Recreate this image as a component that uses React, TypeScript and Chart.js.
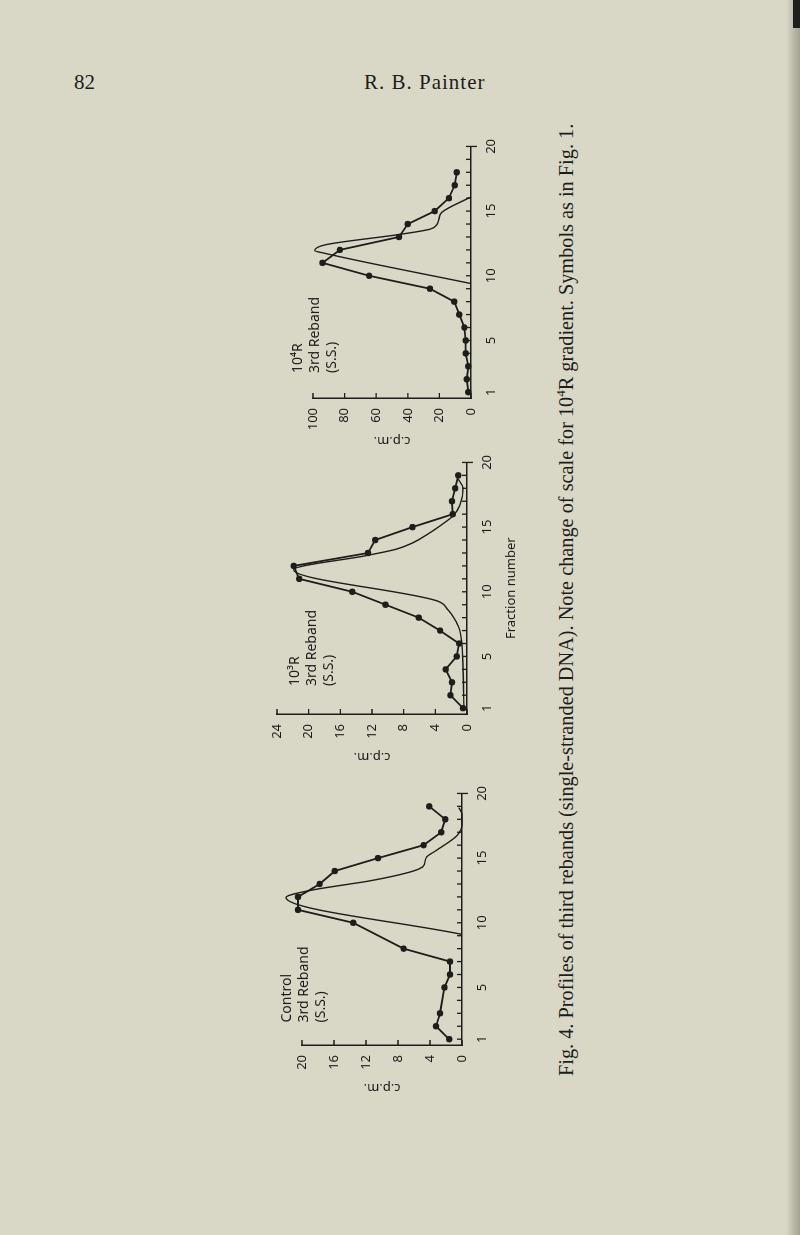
import React, { useEffect, useRef } from "react";
import { Chart, registerables } from "chart.js";

Chart.register(...registerables);

const INK = "#1d1d1b";
const PAPER = "#d9d8c6";

// Fraction axis (shared by the three panels)
const fractionLabels = [1, 5, 10, 15, 20];
const fractionMarks = [1, 2, 3, 4, 5, 6, 7, 8, 9, 10, 11, 12, 13, 14, 15, 16, 17, 18, 19, 20];

// Panel 1: 10^4 R, 3rd reband
const r4DotFractions = [1, 2, 3, 4, 5, 6, 7, 8, 9, 10, 11, 12, 13, 14, 15, 16, 17, 18];
const r4DotCpm = [1.7, 2.7, 1.7, 3.4, 3.4, 4.2, 7.4, 10.6, 26, 64.5, 94, 83, 45.6, 40, 23, 14, 10.3, 9];
const r4CurveFractions = [9.4, 11.75, 11.95, 12.4, 13.2, 13.6, 13.9, 14.3, 14.9, 16.1];
const r4CurveCpm = [0, 93, 99, 92, 45, 26, 22, 20.5, 18.5, 0];
const r4CpmTicks = [0, 20, 40, 60, 80, 100];

// Panel 2: 10^3 R, 3rd reband
const r3DotFractions = [1, 2, 3, 4, 5, 6, 7, 8, 9, 10, 11, 12, 13, 14, 15, 16, 17, 18, 19];
const r3DotCpm = [0.5, 2.1, 1.9, 2.7, 1.3, 1.0, 3.4, 6.1, 10.3, 14.5, 21.2, 21.9, 12.5, 11.6, 6.9, 1.8, 1.9, 1.5, 1.1];
const r3CurveFractions = [1, 4, 7, 7.6, 8.6, 9.3, 11.7, 12.8, 13.3, 13.8, 14.4, 15.1, 15.9, 16.7, 18.0, 18.7];
const r3CurveCpm = [0.4, 0.5, 0.9, 1.3, 2.4, 3.8, 21.9, 12.7, 8.9, 6.8, 5.1, 3.4, 1.7, 0.9, 0.5, 1.1];
const r3CpmTicks = [0, 4, 8, 12, 16, 20, 24];

// Panel 3: Control, 3rd reband
const ctlDotFractions = [1, 2, 3, 5, 6, 7, 8, 10, 11, 12, 13, 14, 15, 16, 17, 18, 19];
const ctlDotCpm = [1.6, 3.25, 2.75, 2.2, 1.5, 1.5, 7.3, 13.6, 20.5, 20.5, 17.8, 15.9, 10.5, 4.8, 2.6, 2.1, 4.1];
const ctlCurveFractions = [9.1, 11.95, 12.5, 13.0, 13.2, 14.0, 14.4, 14.8, 15.1, 15.6, 16.7, 17.6, 18.4, 18.9];
const ctlCurveCpm = [0, 22, 19, 14, 11.9, 6.1, 4.8, 4.6, 4.4, 3.2, 0.7, 0, 0, 0.4];
const ctlCpmTicks = [0, 4, 8, 12, 16, 20];

// geometry of each (unrotated) chart canvas
const Y_AXIS_W = 62;
const PLOT_W = 262.6;
const W = 333;
const RIGHT_PAD = W - Y_AXIS_W - PLOT_W;
const TOP_PAD = 30;
const X_AXIS_H = 52;

Chart.defaults.font.family = "'Noto Sans', sans-serif";
Chart.defaults.color = INK;

const tickMarks = {
  id: "innerTicks",
  afterDraw(chart: any, _args: any, opts: any) {
    const { ctx, chartArea, scales } = chart;
    const x = scales.x;
    const y = scales.y;
    ctx.save();
    ctx.strokeStyle = INK;
    ctx.lineWidth = 1.3;
    ctx.beginPath();
    for (const f of fractionMarks) {
      const px = x.getPixelForValue(f);
      ctx.moveTo(px, chartArea.bottom);
      ctx.lineTo(px, chartArea.bottom - 5);
    }
    const p20 = x.getPixelForValue(20);
    ctx.moveTo(p20, chartArea.bottom);
    ctx.lineTo(p20, chartArea.bottom + 6);
    for (const v of opts.yTicks as number[]) {
      const py = y.getPixelForValue(v);
      ctx.moveTo(chartArea.left, py);
      ctx.lineTo(chartArea.left + 5, py);
    }
    ctx.stroke();
    ctx.restore();
  },
};

type PanelProps = {
  dotF: number[];
  dotV: number[];
  curveF: number[];
  curveV: number[];
  ticks: number[];
  plotH: number;
  left: number;
  top: number;
  lines: string[];
  labelU: number;
  labelV: number;
  xTitle?: string;
};

function Panel(p: PanelProps) {
  const ref = useRef<HTMLCanvasElement>(null);
  const H = TOP_PAD + p.plotH + X_AXIS_H;
  const max = p.ticks[p.ticks.length - 1];
  useEffect(() => {
    const chart = new Chart(ref.current as HTMLCanvasElement, {
      type: "line",
      data: {
        datasets: [
          {
            data: p.dotF.map((f, i) => ({ x: f, y: p.dotV[i] })),
            borderColor: INK,
            borderWidth: 1.8,
            pointRadius: 3.2,
            pointBackgroundColor: INK,
            pointBorderWidth: 0,
            tension: 0,
            clip: false,
          } as any,
          {
            data: p.curveF.map((f, i) => ({ x: f, y: p.curveV[i] })),
            borderColor: INK,
            borderWidth: 1.4,
            pointRadius: 0,
            cubicInterpolationMode: "monotone",
            clip: false,
          } as any,
        ],
      },
      options: {
        animation: false,
        responsive: false,
        events: [],
        layout: { padding: { top: TOP_PAD, right: RIGHT_PAD, left: 0, bottom: 0 } },
        plugins: {
          legend: { display: false },
          tooltip: { enabled: false },
          innerTicks: { yTicks: p.ticks },
        } as any,
        scales: {
          x: {
            type: "linear",
            min: 0.55,
            max: 20,
            grid: { display: false, drawTicks: false },
            border: { display: true, color: INK, width: 1.5 },
            ticks: { color: INK, padding: 12, font: { size: 13 }, autoSkip: false, maxRotation: 0 },
            afterBuildTicks: (s: any) => {
              s.ticks = fractionLabels.map((v) => ({ value: v }));
            },
            afterFit: (s: any) => {
              s.height = X_AXIS_H;
            },
            title: {
              display: !!p.xTitle,
              text: p.xTitle || "",
              color: INK,
              font: { size: 13 },
              padding: { top: 0, bottom: 0 },
            },
          },
          y: {
            type: "linear",
            min: 0,
            max: max,
            grid: { display: false, drawTicks: false },
            border: { display: true, color: INK, width: 1.5 },
            ticks: { color: INK, padding: 10, font: { size: 13 }, autoSkip: false },
            afterBuildTicks: (s: any) => {
              s.ticks = p.ticks.map((v) => ({ value: v }));
            },
            afterFit: (s: any) => {
              s.width = Y_AXIS_W;
            },
            title: {
              display: true,
              text: "c.p.m.",
              color: INK,
              font: { size: 13 },
              padding: { top: 11, bottom: 0 },
            },
          },
        },
      } as any,
      plugins: [tickMarks],
    });
    return () => chart.destroy();
  }, []);
  return (
    <div
      style={{
        position: "absolute",
        left: p.left,
        top: p.top,
        width: W,
        height: H,
        transform: "rotate(-90deg)",
        transformOrigin: "0 0",
      }}
    >
      <canvas ref={ref} width={W} height={H} style={{ display: "block", width: W, height: H }} />
      <div
        style={{
          position: "absolute",
          left: p.labelU,
          top: p.labelV,
          fontFamily: "'Noto Sans', sans-serif",
          fontSize: 14,
          lineHeight: "17px",
          color: INK,
          whiteSpace: "nowrap",
        }}
      >
        {p.lines.map((l) => (
          <div key={l}>{l}</div>
        ))}
      </div>
    </div>
  );
}

export default function App() {
  return (
    <div
      style={{
        position: "absolute",
        left: 0,
        top: 0,
        width: 800,
        height: 1235,
        background: PAPER,
        overflow: "hidden",
        color: INK,
      }}
    >
      <div style={{ position: "absolute", left: 74, top: 70, fontFamily: "'Liberation Serif', serif", fontSize: 21 }}>82</div>
      <div
        style={{
          position: "absolute",
          left: 364,
          top: 70,
          fontFamily: "'Liberation Serif', serif",
          fontSize: 21,
          letterSpacing: 1.0,
        }}
      >
        R. B. Painter
      </div>

      <Panel
        dotF={r4DotFractions}
        dotV={r4DotCpm}
        curveF={r4CurveFractions}
        curveV={r4CurveCpm}
        ticks={r4CpmTicks}
        plotH={158}
        left={283}
        top={460}
        lines={["10⁴R", "3rd Reband", "(S.S.)"]}
        labelU={87}
        labelV={4.5}
      />
      <Panel
        dotF={r3DotFractions}
        dotV={r3DotCpm}
        curveF={r3CurveFractions}
        curveV={r3CurveCpm}
        ticks={r3CpmTicks}
        plotH={190}
        left={247}
        top={776}
        lines={["10³R", "3rd Reband", "(S.S.)"]}
        labelU={90}
        labelV={37.5}
        xTitle="Fraction number"
      />
      <Panel
        dotF={ctlDotFractions}
        dotV={ctlDotCpm}
        curveF={ctlCurveFractions}
        curveV={ctlCurveCpm}
        ticks={ctlCpmTicks}
        plotH={160}
        left={272}
        top={1106.5}
        lines={["Control", "3rd Reband", "(S.S.)"]}
        labelU={84.5}
        labelV={4.5}
      />

      <div
        style={{
          position: "absolute",
          left: 548,
          top: 1076,
          transform: "rotate(-90deg)",
          transformOrigin: "0 0",
          fontFamily: "'Liberation Serif', serif",
          fontSize: 20.3,
          lineHeight: "25px",
          whiteSpace: "nowrap",
        }}
      >
        Fig. 4. Profiles of third rebands (single-stranded DNA). Note change of scale for 10<sup style={{ fontSize: 13 }}>4</sup>R gradient. Symbols as in Fig. 1.
      </div>

      <div
        style={{
          position: "absolute",
          left: 786,
          top: 0,
          width: 14,
          height: 1235,
          background: "linear-gradient(to right, rgba(0,0,0,0), rgba(60,60,50,0.35))",
        }}
      />
      <div style={{ position: "absolute", left: 793, top: 0, width: 7, height: 28, background: "#1e1e1c" }} />
    </div>
  );
}
